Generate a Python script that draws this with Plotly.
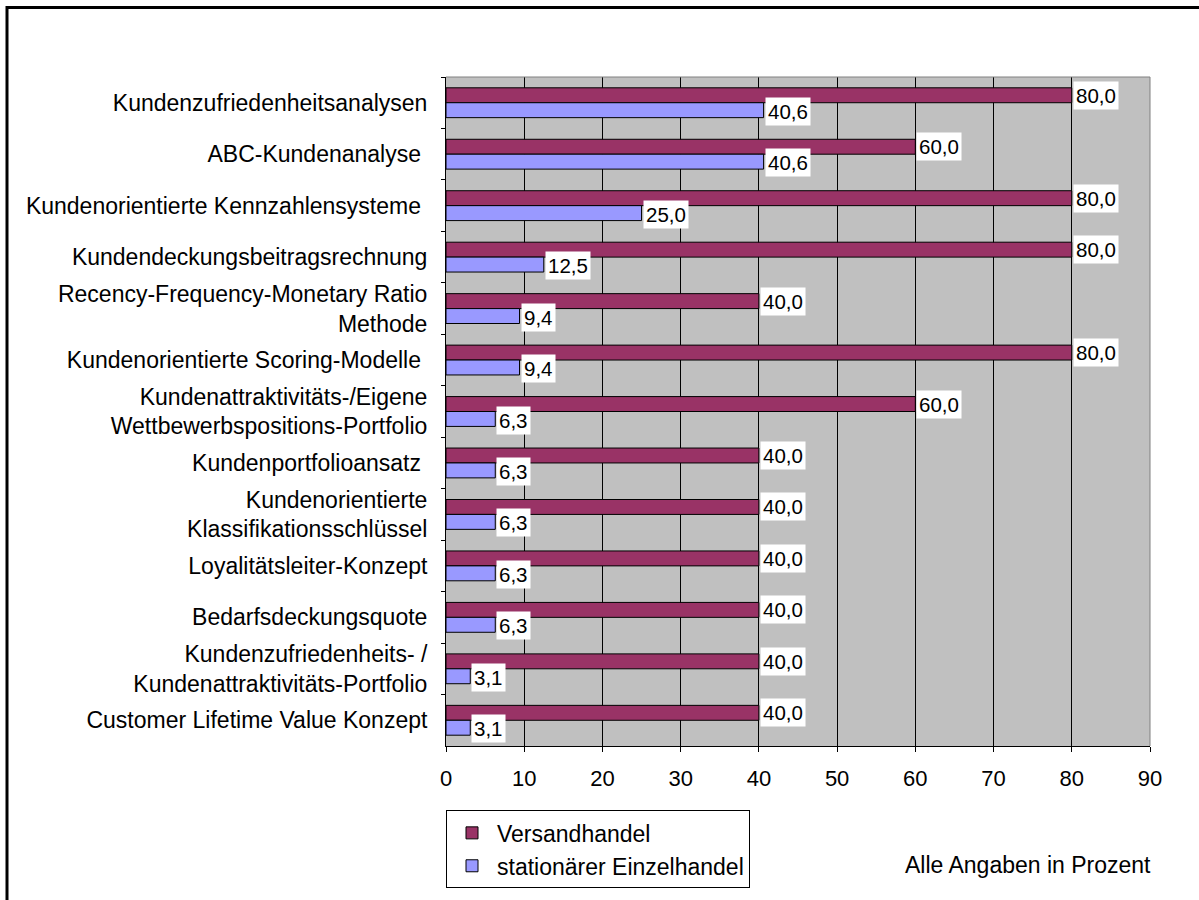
import plotly.graph_objects as go

# Methods of customer valuation, listed top to bottom
categories = [
    "Kundenzufriedenheitsanalysen",
    "ABC-Kundenanalyse\u00a0",
    "Kundenorientierte Kennzahlensysteme\u00a0",
    "Kundendeckungsbeitragsrechnung",
    "Recency-Frequency-Monetary Ratio<br>Methode",
    "Kundenorientierte Scoring-Modelle\u00a0",
    "Kundenattraktivitäts-/Eigene<br>Wettbewerbspositions-Portfolio",
    "Kundenportfolioansatz\u00a0",
    "Kundenorientierte<br>Klassifikationsschlüssel",
    "Loyalitätsleiter-Konzept",
    "Bedarfsdeckungsquote",
    "Kundenzufriedenheits- /<br>Kundenattraktivitäts-Portfolio",
    "Customer Lifetime Value Konzept",
]
versandhandel = [80.0, 60.0, 80.0, 80.0, 40.0, 80.0, 60.0, 40.0, 40.0, 40.0, 40.0, 40.0, 40.0]
einzelhandel = [40.6, 40.6, 25.0, 12.5, 9.4, 9.4, 6.3, 6.3, 6.3, 6.3, 6.3, 3.1, 3.1]
series_names = ["Versandhandel", "stationärer Einzelhandel"]
x_ticks = [0, 10, 20, 30, 40, 50, 60, 70, 80, 90]

FONT = "Liberation Sans, Arial, sans-serif"
MAROON = "#993366"
LAVENDER = "#9999FF"

# plot area in pixels
W, H = 1199, 900
L, R, T, B = 446, 1150, 77, 752


def px_x(p):
    return (p - L) / (R - L)


def px_y(p):
    return (B - p) / (B - T)


fig = go.Figure()
for name, vals, col in [(series_names[0], versandhandel, MAROON),
                        (series_names[1], einzelhandel, LAVENDER)]:
    fig.add_trace(go.Bar(
        x=vals, y=categories, name=name, orientation="h",
        marker=dict(color=col, line=dict(color="black", width=1)),
        hoverinfo="x+y",
    ))

# value labels in white boxes to the right of each bar
annotations = []
for vals, shift in [(versandhandel, 7.5), (einzelhandel, -8.5)]:
    for cat, v in zip(categories, vals):
        annotations.append(dict(
            x=v, y=cat, xref="x", yref="y",
            text=f"{v:.1f}".replace(".", ","),
            showarrow=False, xanchor="left", yanchor="middle",
            xshift=1, yshift=shift,
            bgcolor="white", borderpad=2,
            font=dict(family=FONT, size=20.5, color="black"),
        ))

annotations.append(dict(
    x=px_x(903), y=px_y(872), xref="paper", yref="paper",
    text="Alle Angaben in Prozent", showarrow=False,
    xanchor="left", yanchor="middle",
    font=dict(family=FONT, size=23, color="black"),
))

shapes = [
    # outer frame of the chart area
    dict(type="rect", xref="paper", yref="paper",
         x0=px_x(7), x1=px_x(1210), y0=px_y(910), y1=px_y(7),
         line=dict(color="black", width=3), fillcolor="rgba(0,0,0,0)"),
    # gray top and right border of the plot area
    dict(type="line", xref="paper", yref="paper", x0=0, x1=1, y0=1, y1=1,
         line=dict(color="#808080", width=1), layer="above"),
    dict(type="line", xref="paper", yref="paper", x0=1, x1=1, y0=0, y1=1,
         line=dict(color="#808080", width=1), layer="above"),
]

fig.update_layout(
    width=W, height=H,
    margin=dict(l=L, r=W - R, t=T, b=H - B, pad=0),
    paper_bgcolor="white", plot_bgcolor="#C0C0C0",
    barmode="group", bargap=0.42, bargroupgap=0,
    font=dict(family=FONT, size=23, color="black"),
    showlegend=True,
    legend=dict(
        x=0, y=px_y(817), xanchor="left", yanchor="top",
        bgcolor="white", bordercolor="black", borderwidth=1,
        font=dict(family=FONT, size=23, color="black"),
        traceorder="normal", tracegroupgap=0, itemwidth=40,
    ),
    annotations=annotations,
    shapes=shapes,
)

fig.update_xaxes(
    range=[0, 90], tickvals=x_ticks, ticktext=[str(t) for t in x_ticks],
    showgrid=True, gridcolor="black", gridwidth=1,
    showline=True, linecolor="black", linewidth=1,
    ticks="outside", ticklen=5, tickcolor="black",
    tickfont=dict(family=FONT, size=22, color="black"),
    ticklabelstandoff=8,
    zeroline=False, fixedrange=True,
)
fig.update_yaxes(
    categoryorder="array", categoryarray=categories, autorange="reversed",
    showgrid=False, showline=True, linecolor="black", linewidth=1,
    ticks="outside", ticklen=4, tickcolor="black", tickson="boundaries",
    tickfont=dict(family=FONT, size=23, color="black"),
    ticklabelstandoff=13,
    zeroline=False, fixedrange=True,
)

fig.write_html("out.html")
